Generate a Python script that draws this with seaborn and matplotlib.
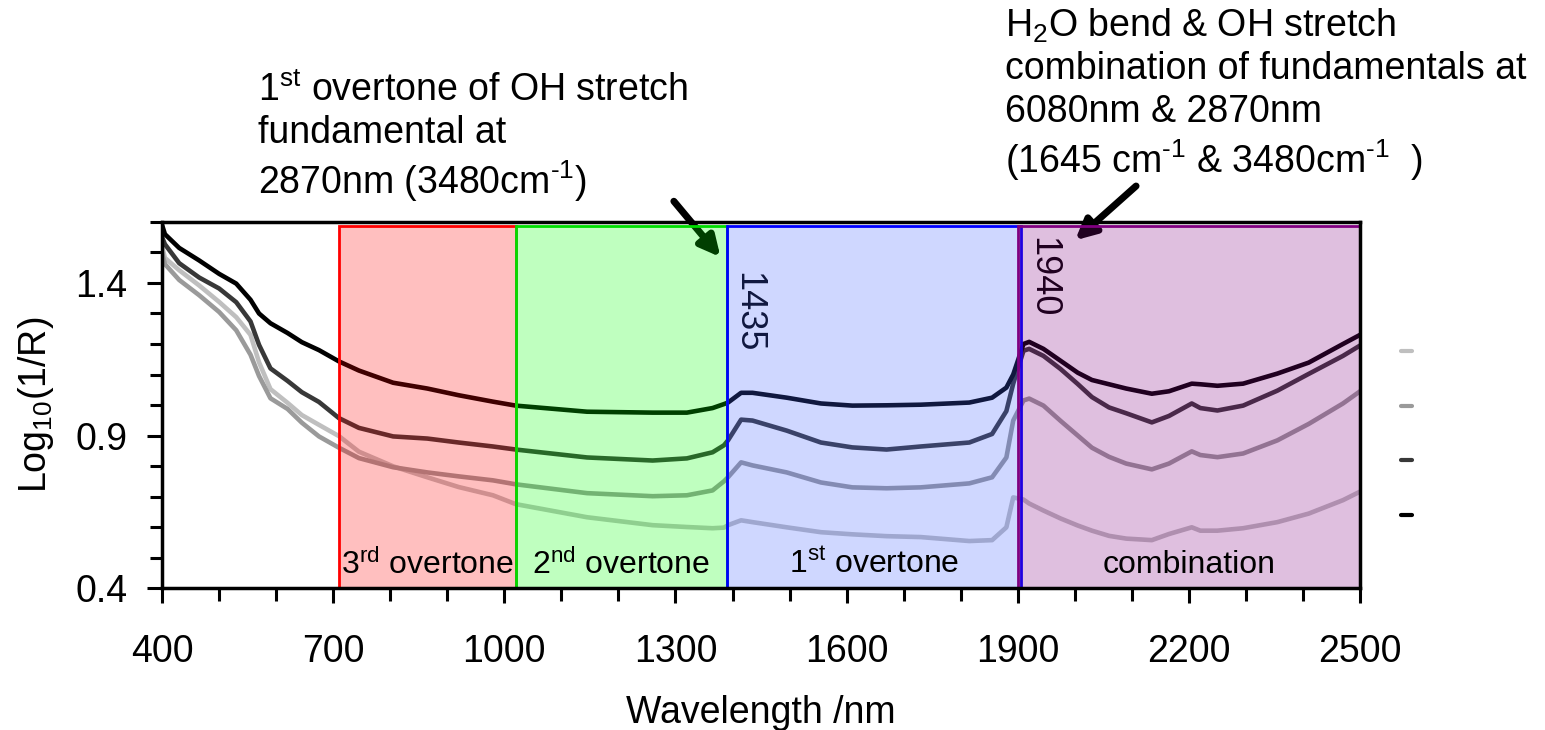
import numpy as np
import pandas as pd
import matplotlib
matplotlib.use("Agg")
import matplotlib.pyplot as plt
from matplotlib.lines import Line2D
from matplotlib.ticker import MultipleLocator
import seaborn as sns

# Wavelength grid (nm) and log10(1/R) for four soil samples
wavelength = [400, 405, 430, 465, 500, 530, 555, 570, 590, 620, 645, 675, 710, 745,
              805, 865, 920, 980, 1020, 1145, 1260, 1320, 1365, 1385, 1392, 1415,
              1435, 1495, 1555, 1610, 1670, 1730, 1815, 1855, 1880, 1892, 1910, 1920,
              1945, 1975, 2005, 2030, 2060, 2090, 2135, 2165, 2205, 2220, 2250, 2295,
              2355, 2410, 2470, 2500]

sample_black = [1.59, 1.56, 1.515, 1.474, 1.43, 1.398, 1.345, 1.30, 1.268, 1.236, 1.206,
                1.18, 1.143, 1.113, 1.073, 1.054, 1.032, 1.011, 0.998, 0.978, 0.975,
                0.975, 0.99, 1.003, 1.008, 1.040, 1.040, 1.024, 1.005, 0.998, 0.999,
                1.001, 1.008, 1.024, 1.057, 1.10, 1.20, 1.207, 1.184, 1.145, 1.106,
                1.082, 1.068, 1.054, 1.037, 1.045, 1.07, 1.068, 1.063, 1.070, 1.103,
                1.139, 1.20, 1.23]

sample_dark = [1.55, 1.527, 1.465, 1.418, 1.382, 1.337, 1.274, 1.197, 1.12, 1.079, 1.042,
               1.01, 0.957, 0.925, 0.897, 0.89, 0.877, 0.864, 0.854, 0.828, 0.818, 0.825,
               0.845, 0.868, 0.884, 0.952, 0.949, 0.916, 0.877, 0.861, 0.854, 0.864,
               0.877, 0.905, 0.98, 1.07, 1.178, 1.184, 1.161, 1.118, 1.069, 1.026, 0.992,
               0.973, 0.943, 0.964, 1.005, 0.99, 0.982, 0.998, 1.047, 1.102, 1.161, 1.195]

sample_gray = [1.50, 1.462, 1.41, 1.36, 1.305, 1.245, 1.165, 1.095, 1.022, 0.987, 0.942,
               0.897, 0.86, 0.826, 0.796, 0.779, 0.766, 0.753, 0.740, 0.711, 0.701, 0.704,
               0.72, 0.75, 0.763, 0.812, 0.802, 0.779, 0.746, 0.730, 0.727, 0.730, 0.743,
               0.763, 0.828, 0.949, 1.015, 1.021, 0.998, 0.948, 0.90, 0.86, 0.83, 0.808,
               0.789, 0.808, 0.848, 0.836, 0.829, 0.841, 0.884, 0.938, 1.005, 1.045]

sample_light = [1.52, 1.482, 1.442, 1.392, 1.338, 1.288, 1.230, 1.14, 1.052, 1.007, 0.967,
                0.935, 0.898, 0.847, 0.799, 0.763, 0.731, 0.704, 0.675, 0.632, 0.606, 0.600,
                0.596, 0.598, 0.606, 0.622, 0.616, 0.599, 0.583, 0.576, 0.570, 0.567, 0.554,
                0.557, 0.599, 0.697, 0.69, 0.677, 0.654, 0.628, 0.605, 0.588, 0.571, 0.562,
                0.557, 0.577, 0.599, 0.588, 0.588, 0.596, 0.616, 0.644, 0.688, 0.716]

sample_names = ["light", "gray", "dark", "black"]
sample_colors = ["#bfbfbf", "#9a9a9a", "#383838", "#000000"]

# Spectral regions: (start nm, end nm, fill colour, edge colour, label)
region_start = [710, 1020, 1390, 1900]
region_end = [1020, 1390, 1905, 2500]
region_fill = ["#ff0000", "#00ff00", "#4060ff", "#800080"]
region_edge = ["#ff0000", "#00dd00", "#0000ff", "#800080"]
region_label = [r"3$^{\mathrm{rd}}$ overtone", r"2$^{\mathrm{nd}}$ overtone",
                r"1$^{\mathrm{st}}$ overtone", "combination"]

band_positions = [1427, 1944]
band_tops = [1.435, 1.55]
band_labels = ["1435", "1940"]

sns.set_style("ticks")
plt.rcParams["font.family"] = ["Liberation Sans", "DejaVu Sans"]
plt.rcParams["mathtext.fontset"] = "custom"
plt.rcParams["mathtext.rm"] = "Liberation Sans"
plt.rcParams["mathtext.it"] = "Liberation Sans:italic"
plt.rcParams["mathtext.bf"] = "Liberation Sans:bold"
for key in ["text.color", "axes.labelcolor", "xtick.color", "ytick.color"]:
    plt.rcParams[key] = "black"

FS = 27

spectra = pd.DataFrame({
    "wavelength": wavelength,
    "light": sample_light,
    "gray": sample_gray,
    "dark": sample_dark,
    "black": sample_black,
}).melt(id_vars="wavelength", var_name="sample", value_name="log_inv_r")

fig = plt.figure(figsize=(15.45, 7.3), dpi=100)
ax = fig.add_axes([0.1049, 0.1945, 0.7754, 0.5014])

sns.lineplot(data=spectra, x="wavelength", y="log_inv_r", hue="sample",
             hue_order=sample_names, palette=dict(zip(sample_names, sample_colors)),
             linewidth=3.3, estimator=None, sort=True, legend=False, ax=ax, zorder=2)

# Band position labels sit underneath the translucent regions
for pos, top, lab in zip(band_positions, band_tops, band_labels):
    ax.text(pos, top, lab, rotation=270, ha="center", va="top", fontsize=26,
            color="black", zorder=2)

# Arrows pointing to the water absorption bands
ax.annotate("", xy=(1382, 1.478), xytext=(1294, 1.675), xycoords="data",
            arrowprops=dict(arrowstyle="-|>", lw=5, color="black", mutation_scale=30),
            annotation_clip=False, zorder=2)
ax.annotate("", xy=(1997, 1.534), xytext=(2111, 1.724), xycoords="data",
            arrowprops=dict(arrowstyle="-|>", lw=5, color="black", mutation_scale=30),
            annotation_clip=False, zorder=2)

for x0, x1, fc, ec in zip(region_start, region_end, region_fill, region_edge):
    ax.axvspan(x0, x1, ymin=0.0, ymax=0.99, facecolor=matplotlib.colors.to_rgba(fc, 0.25),
               edgecolor=ec, linewidth=2, zorder=3)

for x0, x1, lab in zip(region_start, region_end, region_label):
    ax.text((x0 + x1) / 2, 0.475, lab, ha="center", va="center", fontsize=23,
            color="black", zorder=4)

ax.set_xlim(400, 2500)
ax.set_ylim(0.4, 1.6)
ax.set_xticks(range(400, 2501, 300))
ax.set_yticks([0.4, 0.9, 1.4])
ax.xaxis.set_minor_locator(MultipleLocator(100))
ax.yaxis.set_minor_locator(MultipleLocator(0.1))
ax.tick_params(which="major", direction="out", length=11, width=2.2, labelsize=FS,
               color="black", labelcolor="black")
ax.tick_params(which="minor", direction="out", length=9, width=2.2, color="black")
ax.tick_params(axis="x", which="major", pad=22)
ax.tick_params(axis="y", which="major", pad=14)
for side in ["left", "right", "top", "bottom"]:
    ax.spines[side].set_visible(True)
    ax.spines[side].set_linewidth(2.5)
    ax.spines[side].set_color("black")
    ax.spines[side].set_zorder(5)

ax.set_xlabel("Wavelength /nm", fontsize=FS, labelpad=18)
ax.set_ylabel(r"Log$_{10}$(1/R)", fontsize=FS, labelpad=14)

fig.text(258 / 1545, 1 - 72 / 730,
         "1$^{\\mathrm{st}}$ overtone of OH stretch\nfundamental at\n"
         "2870nm (3480cm$^{\\mathrm{\u2010}1}$)",
         ha="left", va="top", fontsize=FS, linespacing=1.22)
fig.text(1005 / 1545, 1 - 7 / 730,
         "H$_2$O bend & OH stretch\ncombination of fundamentals at\n6080nm & 2870nm\n"
         "(1645 cm$^{\\mathrm{\u2010}1}$ & 3480cm$^{\\mathrm{\u2010}1}$  )",
         ha="left", va="top", fontsize=FS, linespacing=1.22)

handles = [Line2D([0], [0], color=c, lw=3) for c in sample_colors]
ax.legend(handles, [" "] * 4, loc="center left", bbox_to_anchor=(1.0345, 0.416),
          frameon=False, handlelength=0.35, handletextpad=0.2, borderpad=0,
          borderaxespad=0, labelspacing=0.8, fontsize=22)

fig.savefig("out.png", dpi=100)
